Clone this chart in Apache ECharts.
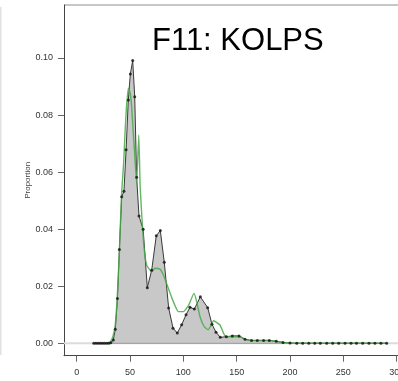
<!DOCTYPE html>
<html>
<head>
<meta charset="utf-8">
<script src="https://cdn.jsdelivr.net/npm/echarts@6/dist/echarts.min.js"></script>
<style>
  html, body { margin: 0; padding: 0; background: #fff; }
  #content { width: 398px; height: 381px; }
</style>
</head>
<body>
<div id="content"></div>
<script>
// 观测分布（黑点 + 灰色面积）
var obsX = [16, 18, 20, 22, 24, 26, 28, 30, 32, 34.3, 36.2, 38.2, 40, 42.2, 44.3, 46.3, 48.4, 50.3, 52.5, 54.4,
    56.2, 58.4, 62.3, 66.2, 70.3, 74.6, 78.4, 82.1, 86.2, 90.3, 94.3, 98.4, 102.5, 106.2, 110.3, 115.9, 122.8,
    126.8, 130.6, 134.6, 140.3, 145.9, 152.2, 157.8, 163.9, 169.3, 175.2, 180.6, 187.1, 193.4, 200, 206.3, 211.9,
    217.6, 223.2, 228.4, 234.4, 240, 245.6, 251.6, 257.2, 262.3, 268.1, 274, 279.6, 285.2, 290.6];
var obsY = [0, 0, 0, 0, 0, 0, 0, 0, 0.0002, 0.0012, 0.0049, 0.0157, 0.0329, 0.0514, 0.0533, 0.0678, 0.0853, 0.0944, 0.0991, 0.0864,
    0.0582, 0.0446, 0.0400, 0.0195, 0.0256, 0.0377, 0.0395, 0.0284, 0.0124, 0.0053, 0.0036, 0.0065, 0.0100, 0.0126, 0.0120, 0.0163, 0.0125,
    0.0067, 0.0039, 0.0021, 0.0023, 0.0026, 0.0026, 0.0014, 0.0010, 0.0010, 0.0010, 0.0010, 0.0007, 0.0003, 0.0001, 0, 0,
    0, 0, 0, 0, 0, 0, 0, 0, 0, 0, 0, 0, 0, 0];

// 拟合曲线（绿色）
var fitX = [28, 30, 32, 34, 36, 38, 40, 42, 44, 45.3, 46.5, 48.4, 50, 51.5, 53, 54.6, 56.2, 58.2, 59.5, 61, 63, 65.6,
    68.7, 70.3, 73.3, 78, 81.2, 85.9, 90.6, 95.3, 100, 104.6, 110, 112.5, 115.6, 119.6, 123.2, 128.4, 134.3, 138.5,
    142, 148, 153, 159, 165, 175, 181, 187, 193, 200, 220, 250, 290.6];
var fitY = [0, 0.0002, 0.0008, 0.0025, 0.006, 0.016, 0.032, 0.052, 0.063, 0.0736, 0.082, 0.0894, 0.088, 0.083, 0.074, 0.065, 0.056, 0.073, 0.055, 0.045, 0.034, 0.0274,
    0.0257, 0.0251, 0.0263, 0.026, 0.024, 0.0193, 0.0146, 0.0111, 0.0111, 0.0131, 0.0175, 0.0146, 0.0093, 0.0058, 0.0047, 0.0079, 0.0064, 0.0029,
    0.0023, 0.0023, 0.0023, 0.0012, 0.001, 0.001, 0.001, 0.0007, 0.0003, 0.0001, 0, 0, 0];

var xTicks = [0, 50, 100, 150, 200, 250, 300];
var yTicks = [0, 0.02, 0.04, 0.06, 0.08, 0.10];

function pairs(xs, ys) {
    var out = [];
    for (var i = 0; i < xs.length; i++) {
        out.push([xs[i], ys[i]]);
    }
    return out;
}

var obsData = pairs(obsX, obsY);
var fitData = pairs(fitX, fitY);
var baseData = [[obsX[0], 0], [obsX[obsX.length - 1], 0]];

var myChart = echarts.init(document.getElementById('content'));

var option = {
    animation: false,
    backgroundColor: '#fff',
    textStyle: { fontFamily: 'Liberation Sans, Arial, sans-serif' },
    title: {
        text: 'F11: KOLPS',
        left: 147,
        top: 21,
        textStyle: { color: '#000', fontSize: 31, fontWeight: 'normal', fontFamily: 'Liberation Sans, Arial, sans-serif' }
    },
    grid: { left: 64, top: 5, width: 344, height: 350.7, outerBoundsMode: 'none' },
    xAxis: {
        type: 'value',
        min: -11.906,
        max: 310.6,
        splitLine: { show: false },
        axisLine: { show: true, onZero: false, lineStyle: { color: '#444', width: 1 } },
        axisTick: { show: true, customValues: xTicks, length: 6, lineStyle: { color: '#666' } },
        axisLabel: { customValues: xTicks, margin: 12, fontSize: 9, color: '#333' }
    },
    yAxis: {
        type: 'value',
        min: -0.004346,
        max: 0.11858,
        name: 'Proportion',
        nameLocation: 'middle',
        nameGap: 32,
        nameMoveOverlap: false,
        nameTextStyle: { fontSize: 8, color: '#444' },
        splitLine: { show: false },
        axisLine: { show: true, onZero: false, lineStyle: { color: '#444', width: 1 } },
        axisTick: { show: true, customValues: yTicks, length: 6, lineStyle: { color: '#666' } },
        axisLabel: {
            customValues: yTicks, margin: 11, fontSize: 9, color: '#333',
            formatter: function (v) { return v.toFixed(2); }
        }
    },
    graphic: [
        { type: 'line', shape: { x1: 64, y1: 5, x2: 398, y2: 5 }, style: { stroke: '#b4b4b4', lineWidth: 1.5 } },
        { type: 'line', shape: { x1: 0.8, y1: 7, x2: 0.8, y2: 355 }, style: { stroke: '#e2e2e2', lineWidth: 1.6 } }
    ],
    series: [
        {
            name: 'zero',
            type: 'line',
            data: [[-11.906, 0], [310.6, 0]],
            symbol: 'none',
            silent: true,
            lineStyle: { color: '#dcdcdc', width: 2 },
            z: 1
        },
        {
            name: 'obs',
            type: 'line',
            data: obsData,
            symbol: 'none',
            lineStyle: { color: '#3a3a3a', width: 1 },
            areaStyle: { color: '#c8c8c8', opacity: 1 },
            z: 2
        },
        {
            name: 'base',
            type: 'line',
            data: baseData,
            symbol: 'none',
            lineStyle: { color: '#999', width: 1 },
            z: 3
        },
        {
            name: 'fit',
            type: 'line',
            data: fitData,
            symbol: 'none',
            smooth: 0.15,
            lineStyle: { color: 'rgba(70,170,70,0.85)', width: 1.4 },
            z: 4
        },
        {
            name: 'pts',
            type: 'scatter',
            data: obsData,
            symbol: 'circle',
            symbolSize: 3,
            itemStyle: { color: '#111' },
            z: 5
        }
    ]
};

myChart.setOption(option);
</script>
</body>
</html>
